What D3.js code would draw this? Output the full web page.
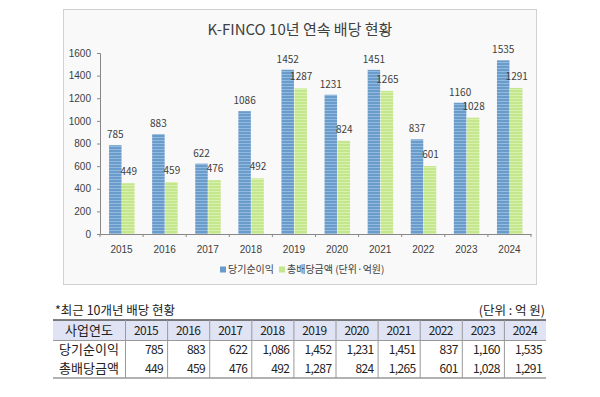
<!DOCTYPE html>
<html>
<head>
<meta charset="utf-8">
<script src="https://cdn.jsdelivr.net/npm/d3@7"></script>
<style>
  body { margin: 0; background: #fff; }
  svg { display: block; font-family: "Noto Sans CJK KR", "Noto Sans", sans-serif; }
</style>
</head>
<body>
<svg width="600" height="397"></svg>
<script>
const years = ["2015", "2016", "2017", "2018", "2019", "2020", "2021", "2022", "2023", "2024"];
const netIncome = [785, 883, 622, 1086, 1452, 1231, 1451, 837, 1160, 1535];
const dividends = [449, 459, 476, 492, 1287, 824, 1265, 601, 1028, 1291];
const yTicks = [0, 200, 400, 600, 800, 1000, 1200, 1400, 1600];
const seriesNames = ["당기순이익", "총배당금액 (단위·억원)"];
const rowNames = ["사업연도", "당기순이익", "총배당금액"];

const svg = d3.select("svg");
const ink = "#404040";

// patterns for the striped bars
const defs = svg.append("defs");
function stripes(id, base, line) {
  const p = defs.append("pattern").attr("id", id)
    .attr("patternUnits", "userSpaceOnUse").attr("width", 4).attr("height", 3);
  p.append("rect").attr("width", 4).attr("height", 3).attr("fill", base);
  p.append("rect").attr("y", 2).attr("width", 4).attr("height", 1).attr("fill", line);
}
stripes("blue", "#6a9ccb", "#93b9de");
stripes("green", "#c4e68c", "#d9f1ae");

// chart frame
svg.append("rect").attr("x", 63.5).attr("y", 9.5).attr("width", 473).attr("height", 275)
  .attr("fill", "#f9f9f9").attr("stroke", "#d0d0d0");

svg.append("text").attr("x", 300).attr("y", 35).attr("text-anchor", "middle")
  .attr("font-size", 15).attr("fill", ink).text("K-FINCO 10년 연속 배당 현황");

const x = d3.scaleBand().domain(years).range([100, 531]);
const y = d3.scaleLinear().domain([0, 1600]).range([234, 53]);

// y axis
const yAxis = svg.append("g").attr("transform", "translate(100,0)")
  .call(d3.axisLeft(y).tickValues(yTicks).tickFormat(d3.format("d")).tickSize(3).tickPadding(6));
yAxis.select(".domain").attr("stroke", "#888");
yAxis.selectAll(".tick line").attr("stroke", "#888");
yAxis.selectAll("text").attr("font-size", 10).attr("fill", ink).attr("font-family", null);

// bars
const bw = 12.5;
const g = svg.append("g");
years.forEach((yr, i) => {
  const c = x(yr) + x.bandwidth() / 2;
  g.append("rect").attr("x", c - bw).attr("y", y(netIncome[i]))
    .attr("width", bw).attr("height", y(0) - y(netIncome[i])).attr("fill", "url(#blue)");
  g.append("rect").attr("x", c + 0.5).attr("y", y(dividends[i]))
    .attr("width", bw).attr("height", y(0) - y(dividends[i])).attr("fill", "url(#green)");
  g.append("text").attr("x", c - bw / 2).attr("y", y(netIncome[i]) - 7)
    .attr("text-anchor", "middle").attr("font-size", 10).attr("fill", ink).text(netIncome[i]);
  g.append("text").attr("x", c + bw / 2 + 1).attr("y", y(dividends[i]) - 8)
    .attr("text-anchor", "middle").attr("font-size", 10).attr("fill", ink).text(dividends[i]);
});

// x axis
const xAxis = svg.append("g").attr("transform", "translate(0,234)")
  .call(d3.axisBottom(x).tickSize(0).tickPadding(12));
xAxis.select(".domain").attr("stroke", "#888");
xAxis.selectAll("text").attr("font-size", 10).attr("fill", ink).attr("font-family", null);
xAxis.selectAll(".sep").data(years.concat("end")).enter().append("line")
  .attr("x1", (d, i) => 100 + i * x.bandwidth()).attr("x2", (d, i) => 100 + i * x.bandwidth())
  .attr("y1", 0).attr("y2", 3).attr("stroke", "#888");

// legend
const lg = svg.append("g").attr("transform", "translate(220,273)");
lg.append("rect").attr("x", 0).attr("y", -6.5).attr("width", 6).attr("height", 6).attr("fill", "#6a9ccb");
lg.append("text").attr("x", 8).attr("y", 0).attr("font-size", 10).attr("fill", ink).text(seriesNames[0]);
lg.append("rect").attr("x", 59).attr("y", -6.5).attr("width", 6).attr("height", 6).attr("fill", "#c4e68c");
lg.append("text").attr("x", 67).attr("y", 0).attr("font-size", 10).attr("fill", ink).text(seriesNames[1]);

// table
svg.append("text").attr("x", 55).attr("y", 315).attr("font-size", 12.5).attr("fill", "#222")
  .text("*최근 10개년 배당 현황");
svg.append("text").attr("x", 545).attr("y", 315).attr("text-anchor", "end").attr("font-size", 12.5)
  .attr("fill", "#222").text("(단위 : 억 원)");

const tx = d3.scaleBand().domain(years).range([125, 546]);
const rowTop = [320, 340, 359];
const rowH = [20, 19, 19];
svg.append("rect").attr("x", 53).attr("y", 320).attr("width", 493).attr("height", 20).attr("fill", "#dfe3f3");

const fmt = d3.format(",");
const rows = [years, netIncome.map(fmt), dividends.map(fmt)];
rows.forEach((r, ri) => {
  const ty = rowTop[ri] + rowH[ri] / 2 + 4.5;
  svg.append("text").attr("x", 89).attr("y", ty).attr("text-anchor", "middle")
    .attr("font-size", 13).attr("fill", "#222").text(rowNames[ri]);
  r.forEach((v, i) => {
    svg.append("text")
      .attr("x", ri === 0 ? tx(years[i]) + tx.bandwidth() / 2 : tx(years[i]) + tx.bandwidth() - 4)
      .attr("y", ty).attr("text-anchor", ri === 0 ? "middle" : "end")
      .attr("font-size", 12).attr("fill", "#222").attr("letter-spacing", -0.6).text(v);
  });
});
svg.append("line").attr("x1", 53).attr("x2", 546).attr("y1", 320).attr("y2", 320).attr("stroke", "#555").attr("stroke-width", 1.5);
svg.append("line").attr("x1", 53).attr("x2", 546).attr("y1", 340.5).attr("y2", 340.5).attr("stroke", "#999");
svg.append("line").attr("x1", 53).attr("x2", 546).attr("y1", 378).attr("y2", 378).attr("stroke", "#666").attr("stroke-width", 1.2);
const vx = [125].concat(years.slice(1).map(d => tx(d)));
svg.selectAll(".vl").data(vx).enter().append("line")
  .attr("x1", d => d + 0.5).attr("x2", d => d + 0.5).attr("y1", 320).attr("y2", 378)
  .attr("stroke", "#999");
</script>
</body>
</html>
